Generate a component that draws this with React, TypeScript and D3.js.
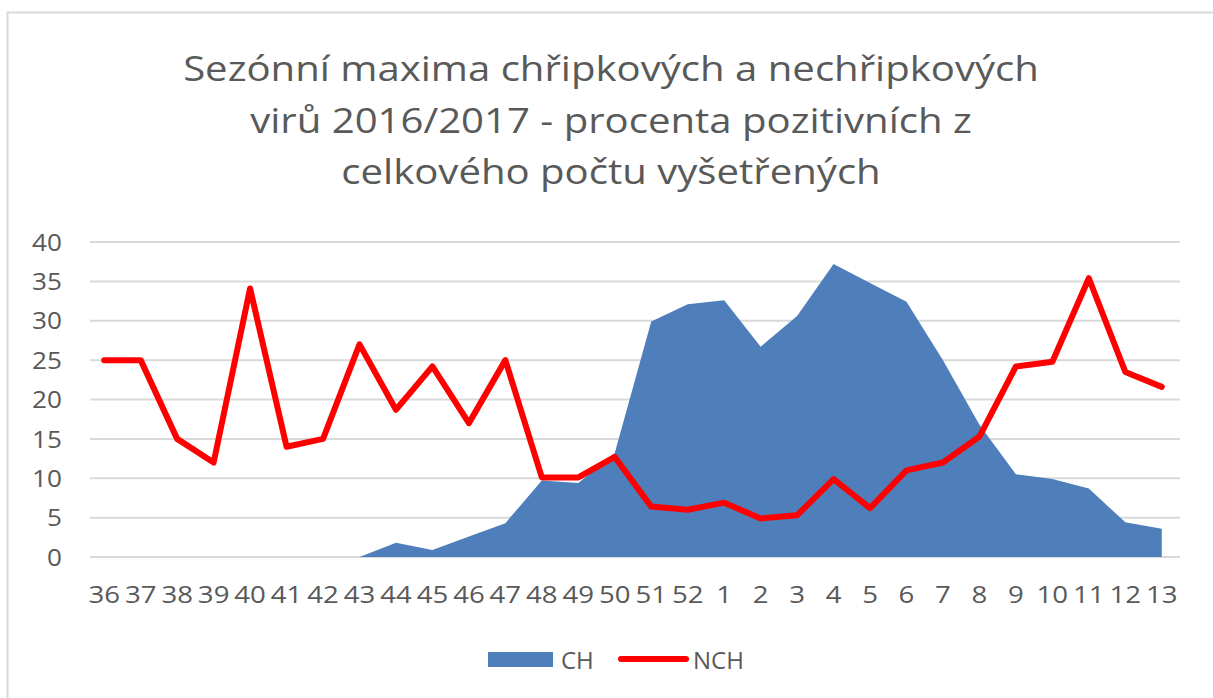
import * as d3 from "d3";

const weeks = [
  "36", "37", "38", "39", "40", "41", "42", "43", "44", "45", "46", "47", "48", "49", "50", "51", "52",
  "1", "2", "3", "4", "5", "6", "7", "8", "9", "10", "11", "12", "13",
];
// CH - chřipkové viry (plocha)
const chValues = [
  0, 0, 0, 0, 0, 0, 0, 0, 1.8, 0.9, 2.6, 4.3, 9.7, 9.4, 13.2, 29.9, 32.1,
  32.6, 26.7, 30.6, 37.2, 34.8, 32.4, 25.0, 16.8, 10.5, 9.9, 8.7, 4.4, 3.6,
];
// NCH - nechřipkové viry (čára)
const nchValues = [
  25, 25, 15, 12, 34.1, 14, 15, 27, 18.7, 24.2, 17, 25, 10.1, 10.1, 12.7, 6.4, 6.0,
  6.9, 4.9, 5.3, 9.9, 6.2, 11.0, 12.0, 15.3, 24.2, 24.8, 35.4, 23.5, 21.6,
];
const yTicks = [0, 5, 10, 15, 20, 25, 30, 35, 40];
const titleLines = [
  "Sezónní maxima chřipkových a nechřipkových",
  "virů 2016/2017 - procenta pozitivních z",
  "celkového počtu vyšetřených",
];

const W = 1213;
const H = 698;
const font = "'Open Sans', 'Noto Sans', sans-serif";
const grey = "#595959";

export default function App() {
  const x = d3.scaleBand<string>().domain(weeks).range([86, 1180]);
  const y = d3.scaleLinear().domain([0, 40]).range([557, 242]);
  const cx = (w: string) => (x(w) ?? 0) + x.bandwidth() / 2;

  const area = d3
    .area<number>()
    .x((_, i) => cx(weeks[i]))
    .y0(y(0))
    .y1((d) => y(d));
  const line = d3
    .line<number>()
    .x((_, i) => cx(weeks[i]))
    .y((d) => y(d));

  return (
    <svg
      width={W}
      height={H}
      style={{ position: "absolute", left: 0, top: 0, background: "#fff" }}
    >
      <rect x={7.5} y={12.5} width={W + 20} height={H + 20} fill="#fff" stroke="#d9d9d9" strokeWidth={2} />

      {titleLines.map((t, i) => (
        <text
          key={i}
          transform={`translate(611,${81 + i * 51.5}) scale(1.18,1)`}
          textAnchor="middle"
          fontFamily={font}
          fontSize={34}
          fill={grey}
        >
          {t}
        </text>
      ))}

      {yTicks.map((t) => (
        <g key={t}>
          <line x1={90} x2={1180} y1={y(t)} y2={y(t)} stroke="#d9d9d9" strokeWidth={2} />
          <text
            transform={`translate(62,${y(t)}) scale(1.09,1)`}
            dy="0.36em"
            textAnchor="end"
            fontFamily={font}
            fontSize={24}
            fill={grey}
          >
            {t}
          </text>
        </g>
      ))}

      <path d={area(chValues) ?? ""} fill="#4f7fbb" />
      <path
        d={line(nchValues) ?? ""}
        fill="none"
        stroke="#ff0000"
        strokeWidth={6}
        strokeLinejoin="round"
        strokeLinecap="round"
      />

      {weeks.map((w) => (
        <text
          key={w}
          transform={`translate(${cx(w)},594) scale(1.15,1)`}
          dy="0.36em"
          textAnchor="middle"
          fontFamily={font}
          fontSize={24}
          fill={grey}
        >
          {w}
        </text>
      ))}

      <rect x={488} y={652} width={65} height={15} fill="#4f7fbb" />
      <text x={561} y={660} dy="0.36em" fontFamily={font} fontSize={24} fill={grey}>
        CH
      </text>
      <line x1={621} x2={686} y1={659} y2={659} stroke="#ff0000" strokeWidth={6} strokeLinecap="round" />
      <text x={693} y={660} dy="0.36em" fontFamily={font} fontSize={24} fill={grey}>
        NCH
      </text>
    </svg>
  );
}
